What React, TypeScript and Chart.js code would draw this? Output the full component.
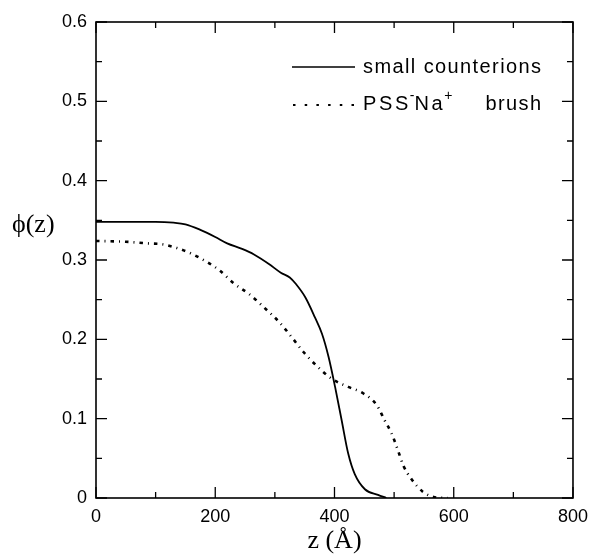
import React, { useEffect, useRef } from "react";
import { Chart, registerables } from "chart.js";

Chart.register(...registerables);

// ---- data ----
const zSmall = [0, 50, 100, 130, 150, 175, 200, 220, 245, 265, 290, 310, 325, 335, 351, 367, 379, 390, 401, 412, 423, 434, 451, 473, 487];
const phiSmall = [0.348, 0.348, 0.348, 0.347, 0.345, 0.338, 0.329, 0.321, 0.314, 0.307, 0.295, 0.284, 0.278, 0.270, 0.253, 0.228, 0.207, 0.178, 0.140, 0.098, 0.056, 0.030, 0.011, 0.004, 0];

const zBrush = [0, 50, 85, 110, 132, 160, 185, 207, 232, 257, 285, 307, 329, 348, 371, 396, 423, 448, 471, 484, 496, 506, 516, 529, 548, 568, 590];
const phiBrush = [0.324, 0.323, 0.321, 0.320, 0.316, 0.308, 0.298, 0.287, 0.270, 0.257, 0.238, 0.222, 0.202, 0.184, 0.166, 0.150, 0.140, 0.132, 0.117, 0.098, 0.081, 0.061, 0.040, 0.024, 0.008, 0.001, 0];

const xMajorTicks = [0, 200, 400, 600, 800];
const xMinorTicks = [100, 300, 500, 700];
const yMajorTicks = [0, 0.1, 0.2, 0.3, 0.4, 0.5, 0.6];
const yMinorTicks = [0.05, 0.15, 0.25, 0.35, 0.45, 0.55];

const seriesLabels = ["small counterions", "PSS-Na+ brush"];
const yTitle = "\u03D5(z)";
const xTitle = "z (\u00C5)";

const SANS = '"Liberation Sans", Arial, sans-serif';
const SERIF = '"Liberation Serif", "DejaVu Serif", "Times New Roman", serif';

const frameTicks = {
  id: "frameTicks",
  afterDatasetsDraw(chart: any) {
    const { ctx, chartArea, scales } = chart;
    const { left, right, top, bottom } = chartArea;
    const x = scales.x;
    const y = scales.y;
    ctx.save();
    ctx.strokeStyle = "#000";
    ctx.lineWidth = 1.6;
    ctx.strokeRect(left, top, right - left, bottom - top);
    ctx.lineWidth = 1.3;
    const drawX = (v: number, len: number) => {
      const px = x.getPixelForValue(v);
      ctx.beginPath();
      ctx.moveTo(px, bottom);
      ctx.lineTo(px, bottom - len);
      ctx.moveTo(px, top);
      ctx.lineTo(px, top + len);
      ctx.stroke();
    };
    const drawY = (v: number, len: number) => {
      const py = y.getPixelForValue(v);
      ctx.beginPath();
      ctx.moveTo(left, py);
      ctx.lineTo(left + len, py);
      ctx.moveTo(right, py);
      ctx.lineTo(right - len, py);
      ctx.stroke();
    };
    xMajorTicks.forEach((v) => drawX(v, 11));
    xMinorTicks.forEach((v) => drawX(v, 6));
    yMajorTicks.forEach((v) => drawY(v, 11));
    yMinorTicks.forEach((v) => drawY(v, 6));

    // y-axis title (horizontal)
    ctx.fillStyle = "#000";
    ctx.font = `26px ${SERIF}`;
    ctx.textBaseline = "middle";
    ctx.textAlign = "left";
    ctx.fillText(yTitle, 12, y.getPixelForValue(0.344));

    // legend
    const lx0 = left + 196;
    const lx1 = left + 259;
    const tx = left + 267;
    const row1 = top + 45;
    const row2 = top + 82;
    ctx.lineWidth = 1.6;
    ctx.setLineDash([]);
    ctx.beginPath();
    ctx.moveTo(lx0, row1);
    ctx.lineTo(lx1, row1);
    ctx.stroke();
    ctx.lineWidth = 2;
    ctx.setLineDash([2.5, 9.2]);
    ctx.beginPath();
    ctx.moveTo(lx0 + 1, row2 + 1);
    ctx.lineTo(lx1 + 2, row2 + 1);
    ctx.stroke();
    ctx.setLineDash([]);

    const big = `20px ${SANS}`;
    const small = `14px ${SANS}`;
    ctx.font = big;
    (ctx as any).letterSpacing = "1.4px";
    ctx.textBaseline = "middle";
    ctx.fillText(seriesLabels[0], tx, row1);
    const endX = tx + ctx.measureText(seriesLabels[0]).width;
    ctx.fillText("brush", endX - ctx.measureText("brush").width, row2);
    // PSS-Na+ with superscripts
    (ctx as any).letterSpacing = "2.6px";
    let cx = tx;
    ctx.fillText("PSS", cx, row2);
    cx += ctx.measureText("PSS").width - 1;
    ctx.font = small;
    (ctx as any).letterSpacing = "0px";
    ctx.fillText("-", cx, row2 - 8);
    cx += ctx.measureText("-").width;
    ctx.font = big;
    (ctx as any).letterSpacing = "2.6px";
    ctx.fillText("Na", cx, row2);
    cx += ctx.measureText("Na").width - 1;
    ctx.font = small;
    (ctx as any).letterSpacing = "0px";
    ctx.fillText("+", cx, row2 - 8);
    ctx.restore();
  },
};

export default function App() {
  const ref = useRef<HTMLCanvasElement>(null);
  useEffect(() => {
    if (!ref.current) return;
    const chart = new Chart(ref.current, {
      type: "line",
      data: {
        datasets: [
          {
            label: seriesLabels[0],
            data: zSmall.map((z, i) => ({ x: z, y: phiSmall[i] })),
            borderColor: "#000",
            borderWidth: 1.8,
            pointRadius: 0,
            cubicInterpolationMode: "monotone",
            fill: false,
          },
          {
            label: seriesLabels[1],
            data: zBrush.map((z, i) => ({ x: z, y: phiBrush[i] })),
            borderColor: "#000",
            borderWidth: 2.6,
            borderDash: [3.5, 5, 1, 5],
            pointRadius: 0,
            cubicInterpolationMode: "monotone",
            fill: false,
          },
        ],
      },
      options: {
        animation: false,
        responsive: false,
        devicePixelRatio: 1,
        layout: { padding: { left: 0, right: 21, top: 22, bottom: 0 } },
        plugins: { legend: { display: false }, tooltip: { enabled: false } },
        scales: {
          x: {
            type: "linear",
            min: 0,
            max: 800,
            afterFit: (s: any) => {
              s.height = 59;
            },
            ticks: {
              stepSize: 200,
              padding: 8,
              color: "#000",
              font: { family: SANS, size: 18 },
              maxRotation: 0,
            },
            grid: { display: false, drawTicks: false },
            border: { display: false },
            title: {
              display: true,
              text: xTitle,
              color: "#000",
              font: { family: SERIF, size: 26 },
              padding: { top: 0, bottom: 0 },
            },
          },
          y: {
            type: "linear",
            min: 0,
            max: 0.6,
            afterFit: (s: any) => {
              s.width = 96;
            },
            ticks: {
              stepSize: 0.1,
              padding: 9,
              color: "#000",
              font: { family: SANS, size: 18 },
            },
            grid: { display: false, drawTicks: false },
            border: { display: false },
          },
        },
      },
      plugins: [frameTicks],
    } as any);
    return () => chart.destroy();
  }, []);
  return (
    <div style={{ position: "fixed", left: 0, top: 0, width: 596, height: 557, background: "#fff" }}>
      <canvas ref={ref} width={596} height={557} />
    </div>
  );
}
